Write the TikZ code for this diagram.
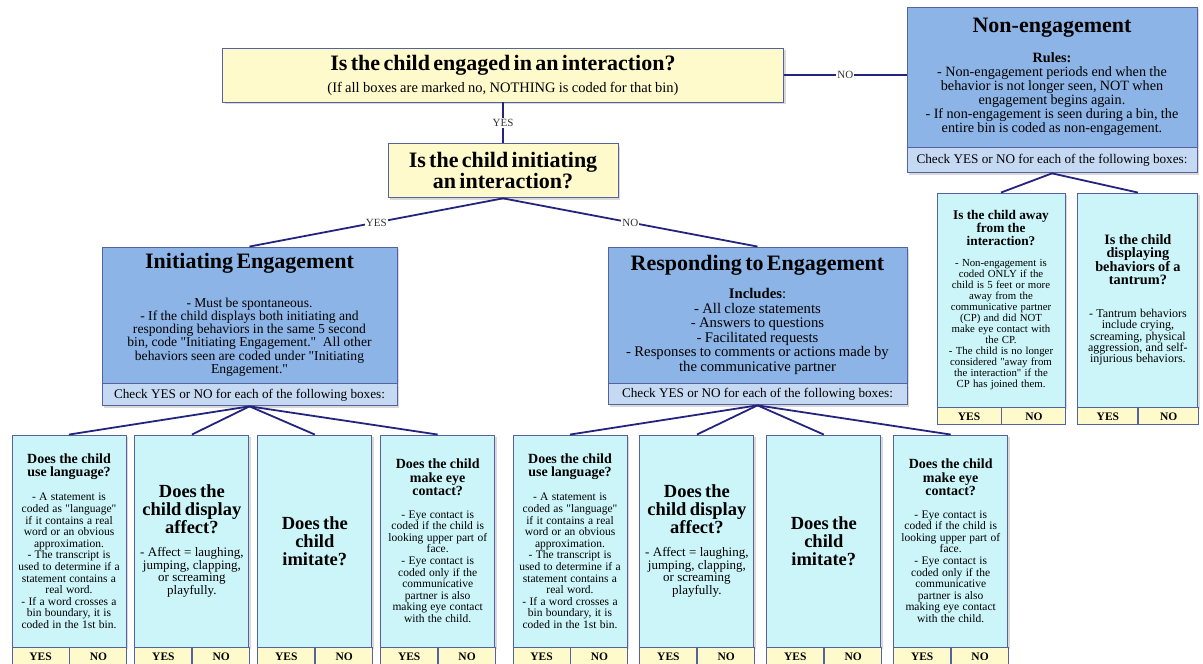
\documentclass[tikz,border=0pt]{standalone}
\usepackage{fontspec}
\setmainfont{Liberation Serif}
\usepackage{xcolor}
\usepackage{tikz}
\usetikzlibrary{positioning,shadows}
\setlength{\parindent}{0pt}
\setlength{\lineskiplimit}{-20pt}

\definecolor{qyellow}{HTML}{FFFACB}
\definecolor{catblue}{HTML}{8DB4E6}
\definecolor{stripblue}{HTML}{C6D9F3}
\definecolor{critcyan}{HTML}{CCF5FA}
\definecolor{boxline}{HTML}{56619F}
\definecolor{navy}{HTML}{24247E}

% font sizes (1pt = 1 pixel of the sheet)
\newcommand{\qtitlefont}{\fontsize{22}{24}\selectfont\bfseries}
\newcommand{\qsubfont}{\fontsize{14.5}{15}\selectfont}
\newcommand{\cattitlefont}{\fontsize{22}{24}\selectfont\bfseries}
\newcommand{\crittitlefont}{\fontsize{14}{13.3}\selectfont\bfseries}
\newcommand{\critbigfont}{\fontsize{18.5}{18}\selectfont\bfseries}
\newcommand{\critbodyfont}{\fontsize{11.5}{11.6}\selectfont}
\newcommand{\nebodyfont}{\fontsize{10.8}{11}\selectfont}
\newcommand{\straightq}{\textquotedbl}

% texts of the criterion boxes (used twice)
\newcommand{\langtext}{%
  {\crittitlefont Does the child\\ use language?\par}\vspace{13pt}
  {\critbodyfont - A statement is\\ coded as \straightq language\straightq\\ if it contains a real\\
   word or an obvious\\ approximation.\\ - The transcript is\\
   used to determine if a\\ statement contains a\\ real word.\\
   - If a word crosses a\\ bin boundary, it is\\ coded in the 1st bin.\par}}
\newcommand{\affecttext}{%
  {\critbigfont Does the\\ child display\\ affect?\par}\vspace{10pt}
  {\fontsize{13}{12.7}\selectfont - Affect = laughing,\\ jumping, clapping,\\
   or screaming\\ playfully.\par}}
\newcommand{\imitatetext}{%
  {\critbigfont Does the\\ child\\ imitate?\par}}
\newcommand{\eyetext}{%
  {\crittitlefont Does the child\\ make eye\\ contact?\par}\vspace{11pt}
  {\critbodyfont - Eye contact is\\ coded if the child is\\ looking upper part of\\
   face.\\ - Eye contact is\\ coded only if the\\ communicative\\
   partner is also\\ making eye contact\\ with the child.\par}}

% YES / NO cells under a box: #1 box name, #2 cell width
\newcommand{\yesno}[2]{%
  \node[answer, minimum width=#2, below right=0pt and 0pt of #1.south west] (#1-yes) {YES};
  \node[answer, minimum width=#2, right=0pt of #1-yes] (#1-no) {NO};
}

\tikzset{
  boxshadow/.style={drop shadow={shadow xshift=2pt, shadow yshift=-2pt, opacity=0.3}},
  question/.style={
    rectangle, draw=boxline, line width=0.9pt, fill=qyellow, boxshadow,
    align=center, inner sep=2pt
  },
  category/.style={
    rectangle, draw=boxline, line width=0.9pt, fill=catblue, boxshadow,
    align=center, inner sep=2pt
  },
  checkstrip/.style={
    rectangle, draw=boxline, line width=0.9pt, fill=stripblue, boxshadow,
    inner sep=0pt, font=\fontsize{13.2}{14}\selectfont
  },
  criterion/.style={
    rectangle, draw=boxline, line width=0.9pt, fill=critcyan, boxshadow,
    align=center, inner sep=1pt, text width=112pt, minimum height=212pt
  },
  answer/.style={
    rectangle, draw=boxline, line width=0.9pt, fill=qyellow,
    inner sep=0pt, minimum height=17pt, font=\fontsize{11.5}{11.5}\selectfont\bfseries
  },
  branch/.style={draw=navy, line width=1.8pt},
  branchlabel/.style={fill=white, inner sep=1pt, text=black!80,
    font=\fontsize{11}{11}\selectfont},
}

\begin{document}
\begin{tikzpicture}[x=1pt, y=-1pt]
  \useasboundingbox (0,0) rectangle (1203,664);

  % Top questions
  \node[question, text width=557pt, minimum height=54pt] (engaged) at (503,75)
    {{\qtitlefont Is the child engaged in an interaction?\par}\vspace{6pt}
     {\qsubfont (If all boxes are marked no, NOTHING is coded for that bin)\par}};
  \node[question, text width=226pt, minimum height=54pt, below=41pt of engaged] (initq)
    {\fontsize{22}{22}\selectfont\bfseries Is the child initiating\\ an interaction?};

  % Non-engagement
  \node[category, text width=286pt, minimum height=140pt] (nonengage) at (1052,77)
    {{\cattitlefont Non-engagement\par}\vspace{14pt}
     {\fontsize{14.2}{14}\selectfont \textbf{Rules:}\\
      - Non-engagement periods end when the\\
      behavior is not longer seen, NOT when\\
      engagement begins again.\\
      - If non-engagement is seen during a bin, the\\
      entire bin is coded as non-engagement.\par}};
  \node[checkstrip, minimum width=290pt, minimum height=25pt, below=0pt of nonengage] (necheck)
    {Check YES or NO for each of the following boxes:};

  \node[criterion, text width=126pt, minimum height=214pt] (away) at (1001,300)
    {{\fontsize{13.3}{12.8}\selectfont\bfseries Is the child away\\ from the\\ interaction?\par}\vspace{10pt}
     {\nebodyfont - Non-engagement is\\ coded ONLY if the\\ child is 5 feet or more\\
      away from the\\ communicative partner\\ (CP) and did NOT\\
      make eye contact with\\ the CP.\\ - The child is no longer\\
      considered \straightq away from\\ the interaction\straightq{} if the\\ CP has joined them.\par}};
  \node[criterion, text width=118pt, minimum height=214pt, right=12pt of away] (tantrum)
    {{\fontsize{14.3}{12.6}\selectfont\bfseries Is the child\\ displaying\\
      behaviors of a\\ tantrum?\par}\vspace{22pt}
     {\fontsize{12}{11.3}\selectfont - Tantrum behaviors\\ include crying,\\ screaming, physical\\
      aggression, and self-\\ injurious behaviors.\par}};

  % Initiating / Responding
  \node[category, text width=291pt, minimum height=136pt] (initcat) at (249.5,315)
    {{\cattitlefont Initiating Engagement\par}\vspace{23pt}
     {\fontsize{13.6}{13.3}\selectfont - Must be spontaneous.\\
      - If the child displays both initiating and\\
      responding behaviors in the same 5 second\\
      bin, code \straightq Initiating Engagement.\straightq\ \ All other\\
      behaviors seen are coded under \straightq Initiating\\
      Engagement.\straightq\par}};
  \node[checkstrip, minimum width=295pt, minimum height=22pt, below=0pt of initcat] (initcheck)
    {Check YES or NO for each of the following boxes:};

  \node[category, text width=295pt, minimum height=136pt] (respcat) at (757.5,315)
    {{\cattitlefont Responding to Engagement\par}\vspace{12pt}
     {\fontsize{14.7}{14.5}\selectfont \textbf{Includes}:\\
      - All cloze statements\\
      - Answers to questions\\
      - Facilitated requests\\
      - Responses to comments or actions made by\\
      the communicative partner\par}};
  \node[checkstrip, minimum width=299pt, minimum height=21pt, below=0pt of respcat] (respcheck)
    {Check YES or NO for each of the following boxes:};

  % Criterion boxes
  \node[criterion] (ilang) at (69,541) {\langtext};
  \node[criterion, right=8pt of ilang] (iaffect) {\affecttext};
  \node[criterion, right=8pt of iaffect] (iimit) {\imitatetext};
  \node[criterion, right=8pt of iimit] (ieye) {\eyetext};

  \node[criterion] (rlang) at (570,541) {\langtext};
  \node[criterion, right=12pt of rlang] (raffect) {\affecttext};
  \node[criterion, right=12pt of raffect] (rimit) {\imitatetext};
  \node[criterion, right=12pt of rimit] (reye) {\eyetext};

  % YES / NO cells
  \yesno{away}{64pt}
  \yesno{tantrum}{60pt}
  \yesno{ilang}{57pt}
  \yesno{iaffect}{57pt}
  \yesno{iimit}{57pt}
  \yesno{ieye}{57pt}
  \yesno{rlang}{57pt}
  \yesno{raffect}{57pt}
  \yesno{rimit}{57pt}
  \yesno{reye}{57pt}

  % Connectors
  \draw[branch] (engaged) -- node[branchlabel] {YES} (initq);
  \draw[branch] (engaged.east) -- node[branchlabel] {NO} (engaged.east -| nonengage.west);
  \draw[branch] (initq.south) -- node[branchlabel] {YES} (initcat.north);
  \draw[branch] (initq.south) -- node[branchlabel] {NO} (respcat.north);

  \draw[branch] (necheck.south) -- (away.north);
  \draw[branch] (necheck.south) -- (tantrum.north);

  \draw[branch] (initcheck.south) -- (ilang.north);
  \draw[branch] (initcheck.south) -- (iaffect.north);
  \draw[branch] (initcheck.south) -- (iimit.north);
  \draw[branch] (initcheck.south) -- (ieye.north);

  \draw[branch] (respcheck.south) -- (rlang.north);
  \draw[branch] (respcheck.south) -- (raffect.north);
  \draw[branch] (respcheck.south) -- (rimit.north);
  \draw[branch] (respcheck.south) -- (reye.north);
\end{tikzpicture}
\end{document}
